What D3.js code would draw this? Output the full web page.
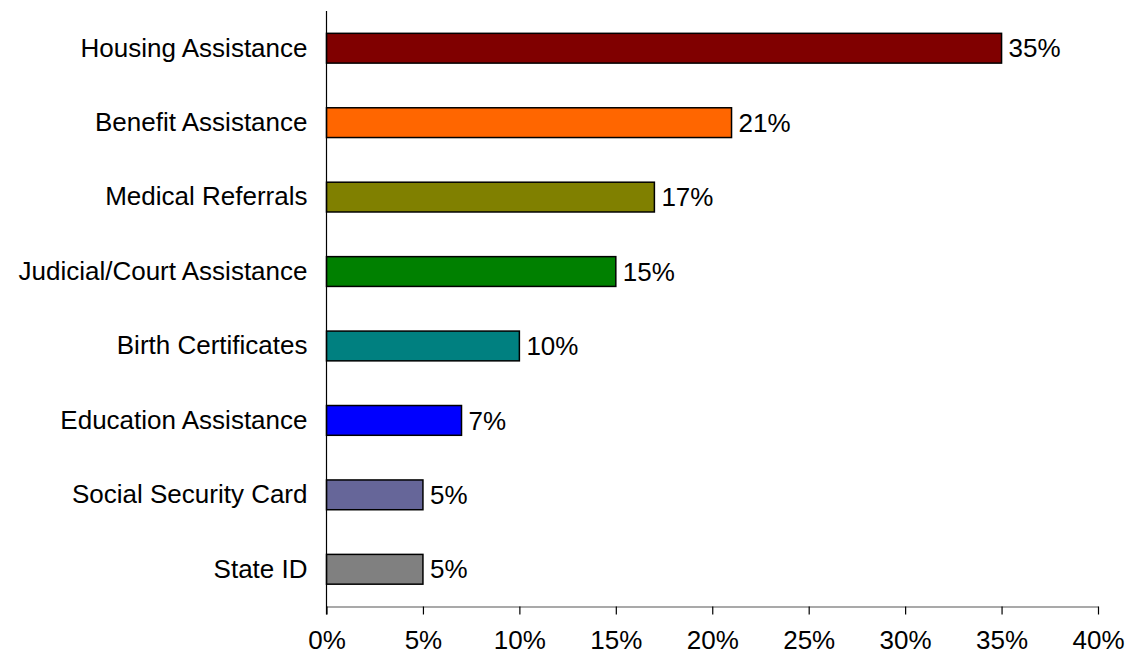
<!DOCTYPE html>
<html>
<head>
<meta charset="utf-8">
<script src="https://cdn.jsdelivr.net/npm/d3@7"></script>
<style>
  html, body { margin: 0; padding: 0; background: #fff; }
  svg text { font-family: "Liberation Sans", Arial, sans-serif; fill: #000; }
</style>
</head>
<body>
<svg id="chart" width="1128" height="656"></svg>
<script>
// Service categories, top to bottom
const categories = [
  "Housing Assistance",
  "Benefit Assistance",
  "Medical Referrals",
  "Judicial/Court Assistance",
  "Birth Certificates",
  "Education Assistance",
  "Social Security Card",
  "State ID"
];
// Share of clients (percent)
const values = [35, 21, 17, 15, 10, 7, 5, 5];
const barColors = ["#800000", "#FF6600", "#808000", "#008000", "#008080", "#0000FF", "#666699", "#808080"];
const xTicks = [0, 5, 10, 15, 20, 25, 30, 35, 40];

const fontSize = 26;
const svg = d3.select("#chart");
const plotLeft = 326.5, plotRight = 1098, plotTop = 11, plotBottom = 606.5;

const x = d3.scaleLinear().domain([0, 40]).range([plotLeft, plotRight]);
const y = d3.scaleBand().domain(categories).range([plotTop, plotBottom])
  .paddingInner(0.6).paddingOuter(0.3);

// Bars
svg.append("g").selectAll("rect")
  .data(values)
  .join("rect")
  .attr("x", x(0))
  .attr("y", (d, i) => y(categories[i]))
  .attr("width", d => x(d) - x(0))
  .attr("height", y.bandwidth())
  .attr("fill", (d, i) => barColors[i])
  .attr("stroke", "#000")
  .attr("stroke-width", 1.5);

// Value labels
svg.append("g").selectAll("text")
  .data(values)
  .join("text")
  .attr("x", d => x(d) + 7)
  .attr("y", (d, i) => y(categories[i]) + y.bandwidth() / 2)
  .attr("dy", "0.35em")
  .attr("font-size", fontSize)
  .text(d => d + "%");

// X axis
const xAxis = svg.append("g")
  .attr("transform", `translate(0,${plotBottom})`)
  .call(d3.axisBottom(x).tickValues(xTicks).tickFormat(d => d + "%").tickSize(8).tickSizeOuter(0).tickPadding(16));
xAxis.select(".domain").attr("stroke", "#555").attr("stroke-width", 1.2);
xAxis.selectAll(".tick line").attr("stroke", "#000").attr("stroke-width", 1.2);
xAxis.selectAll(".tick text").attr("font-size", fontSize).attr("font-family", "Liberation Sans, Arial, sans-serif").attr("fill", "#000");

// Y axis
const yAxis = svg.append("g")
  .attr("transform", `translate(${plotLeft},0)`)
  .call(d3.axisLeft(y).tickSize(0).tickPadding(19));
yAxis.select(".domain").attr("stroke", "#000").attr("stroke-width", 1.2)
  .attr("d", `M0,${plotTop}V${plotBottom + 8}`);
yAxis.selectAll(".tick text").attr("font-size", fontSize).attr("font-family", "Liberation Sans, Arial, sans-serif").attr("fill", "#000");
</script>
</body>
</html>
